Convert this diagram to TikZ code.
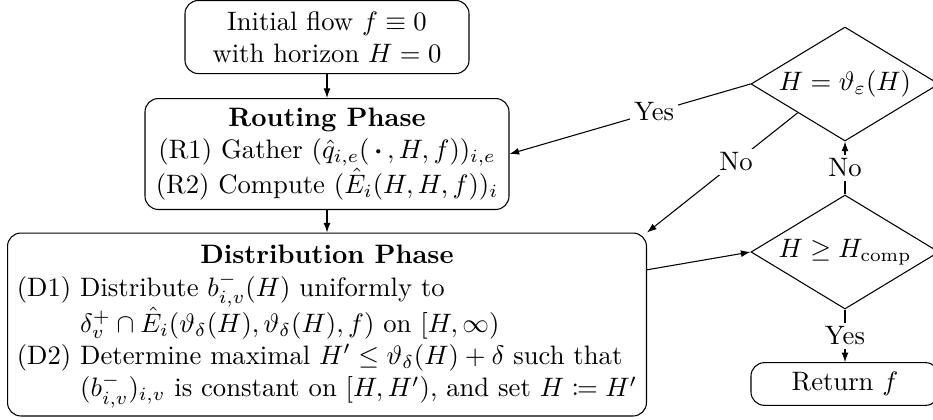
\documentclass[tikz,border=0pt]{standalone}
\usepackage{amsmath,amssymb,mathtools}
\usetikzlibrary{shapes.geometric,arrows.meta}
\begin{document}
\begin{tikzpicture}[x=0.375pt,y=-0.375pt,
  box/.style={draw,rounded corners=5pt,align=center,inner sep=3pt},
  decision/.style={draw,shape=diamond,aspect=1.65,inner sep=0pt,minimum width=70.5pt,minimum height=42.75pt},
  conn/.style={-{Latex[length=3.6pt,width=2.6pt]}},
  lbl/.style={fill=white,inner sep=1.5pt}]
\useasboundingbox (0,0) rectangle (933,419);
\node[box,minimum width=106.5pt,minimum height=27.4pt] (init) at (327,37) {Initial flow $f\equiv 0$\\with horizon $H=0$};
\node[box,minimum width=136.5pt,minimum height=41.6pt] (routing) at (327,154) {\textbf{Routing Phase}\\(R1) Gather $(\hat q_{i,e}(\,\boldsymbol{\cdot}\,,H,f))_{i,e}$\\(R2) Compute $(\hat E_i(H,H,f))_i$};
\node[box,minimum width=239.6pt,minimum height=68.6pt] (dist) at (327,324.5) {\begin{tabular}{@{}l@{ }l@{}}
\multicolumn{2}{c}{\textbf{Distribution Phase}}\\
(D1) & Distribute $b^-_{i,v}(H)$ uniformly to\\
 & $\delta^+_v\cap\hat E_i(\vartheta_\delta(H),\vartheta_\delta(H),f)$ on $[H,\infty)$\\
(D2) & Determine maximal $H'\le\vartheta_\delta(H)+\delta$ such that\\
 & $(b^-_{i,v})_{i,v}$ is constant on $[H,H')$, and set $H\coloneqq H'$
\end{tabular}};
\node[decision] (d1) at (845,84) {$H=\vartheta_\varepsilon(H)$};
\node[decision] (d2) at (845,252) {$H\ge H_{\mathrm{comp}}$};
\node[box,minimum width=70.5pt,minimum height=16pt] (ret) at (845,384) {Return $f$};
\draw[conn] (init) -- (routing);
\draw[conn] (routing.south) -- (routing.south |- dist.north);
\draw[conn] (dist) -- (d2.west);
\draw[conn] (d2) -- node[lbl] {No} (d1);
\draw[conn] (d2) -- node[lbl] {Yes} (ret);
\draw[conn] (d1.west) -- node[lbl,pos=0.4] {Yes} (routing.east);
\draw[conn] (d1.south west) -- node[lbl,pos=0.41] {No} (dist.north east);
\end{tikzpicture}
\end{document}
